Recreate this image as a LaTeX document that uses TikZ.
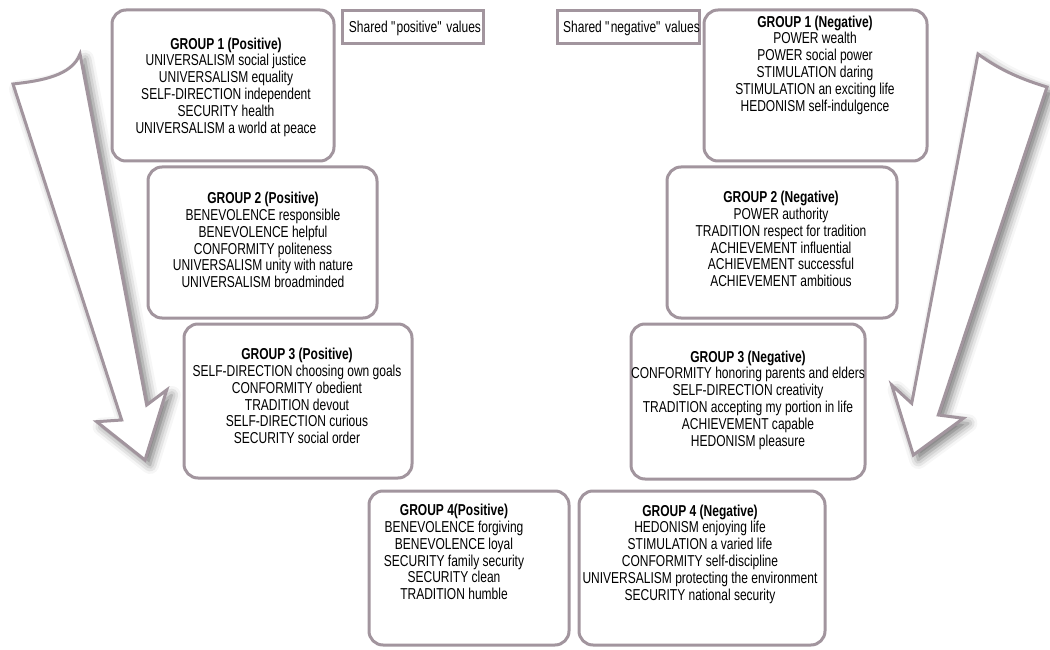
\documentclass[tikz,border=0pt]{standalone}
\usepackage{fontspec}
\setmainfont{Liberation Sans}[FakeStretch=0.76]
\usetikzlibrary{shadows.blur}
\definecolor{mauve}{RGB}{162,149,158}
\newcommand\straightquote{\XeTeXglyph\XeTeXcharglyph"22\relax}
\begin{document}
\begin{tikzpicture}[x=1pt,y=-1pt,
  grp/.style={draw=mauve, line width=3pt, rounded corners=14pt, fill=white, inner sep=0pt},
  lbl/.style={draw=mauve, line width=3pt, fill=white, inner sep=0pt},
  txt/.style={align=center, inner sep=0pt, font=\fontsize{15.8}{16.8}\selectfont},
  arrowshape/.style={draw=mauve, line width=3pt, fill=white, line join=miter,
    blur shadow={shadow xshift=5pt, shadow yshift=-5pt, shadow blur radius=9pt, shadow opacity=55}}]
\useasboundingbox (0,0) rectangle (1050,650);

% arrows
\draw[arrowshape] (13,84) .. controls (40,81) and (72,76) .. (80,54)
  -- (146.7,405) -- (166.7,390) -- (145,460) -- (96.7,421.7) -- (121.7,420) -- cycle;
\draw[arrowshape] (978,54) .. controls (1001,71) and (1024,80) .. (1047,87)
  -- (938.3,415) -- (963.3,418.3) -- (913.3,455) -- (891.7,385) -- (911.7,403.3) -- cycle;

% boxes
\node[grp, minimum width=222pt, minimum height=151pt] (p1) at (223,85.5) {};
\node[grp, minimum width=229pt, minimum height=151pt] (p2) at (262.5,242.5) {};
\node[grp, minimum width=228pt, minimum height=154pt] (p3) at (298,401) {};
\node[grp, minimum width=200pt, minimum height=154pt] (p4) at (469,568) {};
\node[grp, minimum width=223pt, minimum height=151pt] (n1) at (815.5,85.5) {};
\node[grp, minimum width=230pt, minimum height=151pt] (n2) at (782,242.5) {};
\node[grp, minimum width=234pt, minimum height=155pt] (n3) at (748,401.5) {};
\node[grp, minimum width=246pt, minimum height=154pt] (n4) at (702,568) {};

\node[lbl, minimum width=141pt, minimum height=33pt] (lp) at (412.5,27.5) {};
\node[lbl, minimum width=142pt, minimum height=33pt] (ln) at (628,27.5) {};
\node[txt] (lpt) at (415,28) {Shared \straightquote positive\straightquote{} values};
\node[txt] (lnt) at (631.5,28) {Shared \straightquote negative\straightquote{} values};

% texts
\node[txt] (p1t) at (226,87) {\textbf{GROUP 1 (Positive)}\\UNIVERSALISM social justice\\UNIVERSALISM equality\\SELF-DIRECTION independent\\SECURITY health\\UNIVERSALISM a world at peace};
\node[txt] (p2t) at (263,240) {\textbf{GROUP 2 (Positive)}\\BENEVOLENCE responsible\\BENEVOLENCE helpful\\CONFORMITY politeness\\UNIVERSALISM unity with nature\\UNIVERSALISM broadminded};
\node[txt] (p3t) at (297,396) {\textbf{GROUP 3 (Positive)}\\SELF-DIRECTION choosing own goals\\CONFORMITY obedient\\TRADITION devout\\SELF-DIRECTION curious\\SECURITY social order};
\node[txt] (p4t) at (454,552) {\textbf{GROUP 4(Positive)}\\BENEVOLENCE forgiving\\BENEVOLENCE loyal\\SECURITY family security\\SECURITY clean\\TRADITION humble};
\node[txt] (n1t) at (815,65) {\textbf{GROUP 1 (Negative)}\\POWER wealth\\POWER social power\\STIMULATION daring\\STIMULATION an exciting life\\HEDONISM self-indulgence};
\node[txt] (n2t) at (781,239) {\textbf{GROUP 2 (Negative)}\\POWER authority\\TRADITION respect for tradition\\ACHIEVEMENT influential\\ACHIEVEMENT successful\\ACHIEVEMENT ambitious};
\node[txt] (n3t) at (748,400) {\textbf{GROUP 3 (Negative)}\\CONFORMITY honoring parents and elders\\SELF-DIRECTION creativity\\TRADITION accepting my portion in life\\ACHIEVEMENT capable\\HEDONISM pleasure};
\node[txt] (n4t) at (700,554) {\textbf{GROUP 4 (Negative)}\\HEDONISM enjoying life\\STIMULATION a varied life\\CONFORMITY self-discipline\\UNIVERSALISM protecting the environment\\SECURITY national security};
\end{tikzpicture}
\end{document}
